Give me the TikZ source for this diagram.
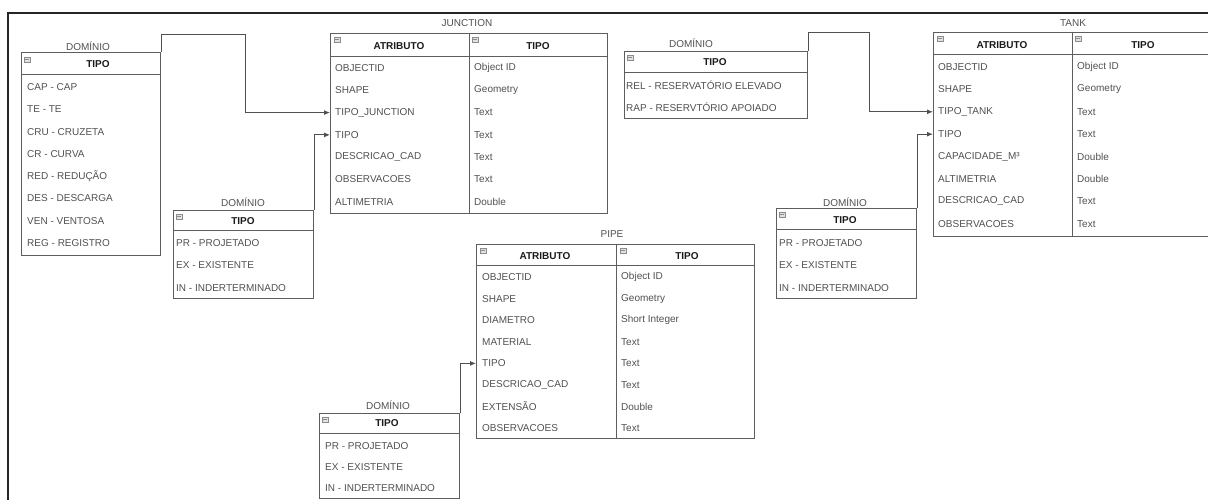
\documentclass[tikz,border=0pt]{standalone}
\usepackage{fontspec}
\setmainfont{Liberation Sans}
\usetikzlibrary{arrows.meta}

\definecolor{linegray}{HTML}{5E5E5E}
\definecolor{txtgray}{HTML}{505050}
\definecolor{headink}{HTML}{1A1A1A}
\definecolor{icongray}{HTML}{8C8C8C}

% small collapse marker drawn in the header cells
\newcommand\collapsemark[1]{%
  \draw[icongray, line width=0.6pt, fill=icongray!25] (#1) rectangle ++(6,5);
  \draw[icongray, line width=0.6pt] (#1) ++(1.3,2.5) -- ++(3.4,0);
}

\begin{document}
\begin{tikzpicture}[x=1pt, y=-1pt,
  tbl/.style={draw=linegray, line width=1pt, anchor=north west, inner sep=0pt},
  sep/.style={draw=linegray, line width=1pt},
  row/.style={anchor=west, inner sep=0pt, text=txtgray, font=\fontsize{10}{12}\selectfont},
  head/.style={inner sep=0pt, text=headink, font=\fontsize{10}{12}\selectfont\bfseries},
  caption/.style={inner sep=0pt, text=txtgray, font=\fontsize{10}{12}\selectfont},
  link/.style={draw=linegray!85!black, line width=1pt, -{Latex[length=6pt,width=5pt]}},
  frame/.style={draw=black!85, line width=1.8pt}
]
\useasboundingbox (0,0) rectangle (1208,500);
\clip (0,0) rectangle (1208,500);

% outer frame
\draw[frame] (8,13) rectangle (1240,530);

% ---------------- DOMÍNIO: junction type ----------------
\node[caption] (d1cap) at (88,46) {DOMÍNIO};
\node[tbl, minimum width=139pt, minimum height=203pt] (d1) at (21,52) {};
\draw[sep] (21,75) -- (160,75);
\collapsemark{24,57}
\node[head] (d1h) at (98,64) {TIPO};
\foreach \t [count=\i] in {CAP - CAP, TE - TE, CRU - CRUZETA, CR - CURVA,
    RED - REDUÇÃO, DES - DESCARGA, VEN - VENTOSA, REG - REGISTRO}
  \node[row] (d1r\i) at (27,{87+22.3*(\i-1)}) {\t};

% ---------------- DOMÍNIO: junction status ----------------
\node[caption] (d2cap) at (243,202) {DOMÍNIO};
\node[tbl, minimum width=140pt, minimum height=88pt] (d2) at (173,210) {};
\draw[sep] (173,230) -- (313,230);
\collapsemark{176,214}
\node[head] (d2h) at (243,221) {TIPO};
\foreach \t [count=\i] in {PR - PROJETADO, EX - EXISTENTE, IN - INDERTERMINADO}
  \node[row] (d2r\i) at (176,{243+22.5*(\i-1)}) {\t};

% ---------------- JUNCTION ----------------
\node[caption] (jcap) at (467,23) {JUNCTION};
\node[tbl, minimum width=277pt, minimum height=180pt] (jct) at (330,33) {};
\draw[sep] (330,57) -- (607,57);
\draw[sep] (469,33) -- (469,213);
\collapsemark{334,37}
\collapsemark{472,37}
\node[head] (jh1) at (399,46) {ATRIBUTO};
\node[head] (jh2) at (538,46) {TIPO};
\foreach \a/\b [count=\i] in {OBJECTID/Object ID, SHAPE/Geometry,
    TIPO\_JUNCTION/Text, TIPO/Text, DESCRICAO\_CAD/Text,
    OBSERVACOES/Text, ALTIMETRIA/Double}
  {\node[row] (jr\i) at (335,{68+22.3*(\i-1)}) {\a};
   \node[row] (jt\i) at (474,{68+22.3*(\i-1)}) {\b};}

% ---------------- DOMÍNIO: tank type ----------------
\node[caption] (d3cap) at (691,43) {DOMÍNIO};
\node[tbl, minimum width=183pt, minimum height=67pt] (d3) at (624,51) {};
\draw[sep] (624,73) -- (807,73);
\collapsemark{627,55}
\node[head] (d3h) at (715,62) {TIPO};
\node[row] (d3r1) at (626,85) {REL - RESERVATÓRIO ELEVADO};
\node[row] (d3r2) at (626,107) {RAP - RESERVTÓRIO APOIADO};

% ---------------- TANK ----------------
\node[caption] (tcap) at (1073,23) {TANK};
\node[tbl, minimum width=281pt, minimum height=204pt] (tnk) at (933,32) {};
\draw[sep] (933,55) -- (1214,55);
\draw[sep] (1072,32) -- (1072,236);
\collapsemark{937,36}
\collapsemark{1075,36}
\node[head] (th1) at (1002,45) {ATRIBUTO};
\node[head] (th2) at (1143,45) {TIPO};
\foreach \a/\b [count=\i] in {OBJECTID/Object ID, SHAPE/Geometry,
    TIPO\_TANK/Text, TIPO/Text, CAPACIDADE\_M³/Double, ALTIMETRIA/Double,
    DESCRICAO\_CAD/Text, OBSERVACOES/Text}
  {\node[row] (tr\i) at (938,{67+22.4*(\i-1)}) {\a};
   \node[row] (tt\i) at (1077,{67+22.4*(\i-1)}) {\b};}

% ---------------- DOMÍNIO: tank status ----------------
\node[caption] (d4cap) at (845,202) {DOMÍNIO};
\node[tbl, minimum width=140pt, minimum height=90pt] (d4) at (776,208) {};
\draw[sep] (776,229) -- (916,229);
\collapsemark{779,212}
\node[head] (d4h) at (845,220) {TIPO};
\foreach \t [count=\i] in {PR - PROJETADO, EX - EXISTENTE, IN - INDERTERMINADO}
  \node[row] (d4r\i) at (779,{243+22.5*(\i-1)}) {\t};

% ---------------- PIPE ----------------
\node[caption] (pcap) at (612,234) {PIPE};
\node[tbl, minimum width=278pt, minimum height=194pt] (pip) at (476,244) {};
\draw[sep] (476,265) -- (754,265);
\draw[sep] (616,244) -- (616,438);
\collapsemark{480,248}
\collapsemark{620,248}
\node[head] (ph1) at (545,256) {ATRIBUTO};
\node[head] (ph2) at (687,256) {TIPO};
\foreach \a/\b [count=\i] in {OBJECTID/Object ID, SHAPE/Geometry,
    DIAMETRO/Short Integer, MATERIAL/Text, TIPO/Text,
    DESCRICAO\_CAD/Text, EXTENSÃO/Double, OBSERVACOES/Text}
  {\node[row] (pr\i) at (482,{277+21.6*(\i-1)}) {\a};
   \node[row] (pt\i) at (621,{277+21.6*(\i-1)}) {\b};}

% ---------------- DOMÍNIO: pipe status ----------------
\node[caption] (d5cap) at (388,405) {DOMÍNIO};
\node[tbl, minimum width=140pt, minimum height=85pt] (d5) at (319,413) {};
\draw[sep] (319,433) -- (459,433);
\collapsemark{322,417}
\node[head] (d5h) at (387,423) {TIPO};
\foreach \t [count=\i] in {PR - PROJETADO, EX - EXISTENTE, IN - INDERTERMINADO}
  \node[row] (d5r\i) at (325,{446+21*(\i-1)}) {\t};

% ---------------- domain links ----------------
\coordinate (k1) at (245,35);
\coordinate (k3) at (869,33);
\draw[link] (d1.north east) |- (k1) |- (jct.west |- jr3);
\draw[link] (d2.north east) |- (jct.west |- jr4);
\draw[link] (d3.north east) |- (k3) |- (tnk.west |- tr3);
\draw[link] (d4.north east) |- (tnk.west |- tr4);
\draw[link] (d5.north east) |- (pip.west |- pr5);
\end{tikzpicture}
\end{document}
